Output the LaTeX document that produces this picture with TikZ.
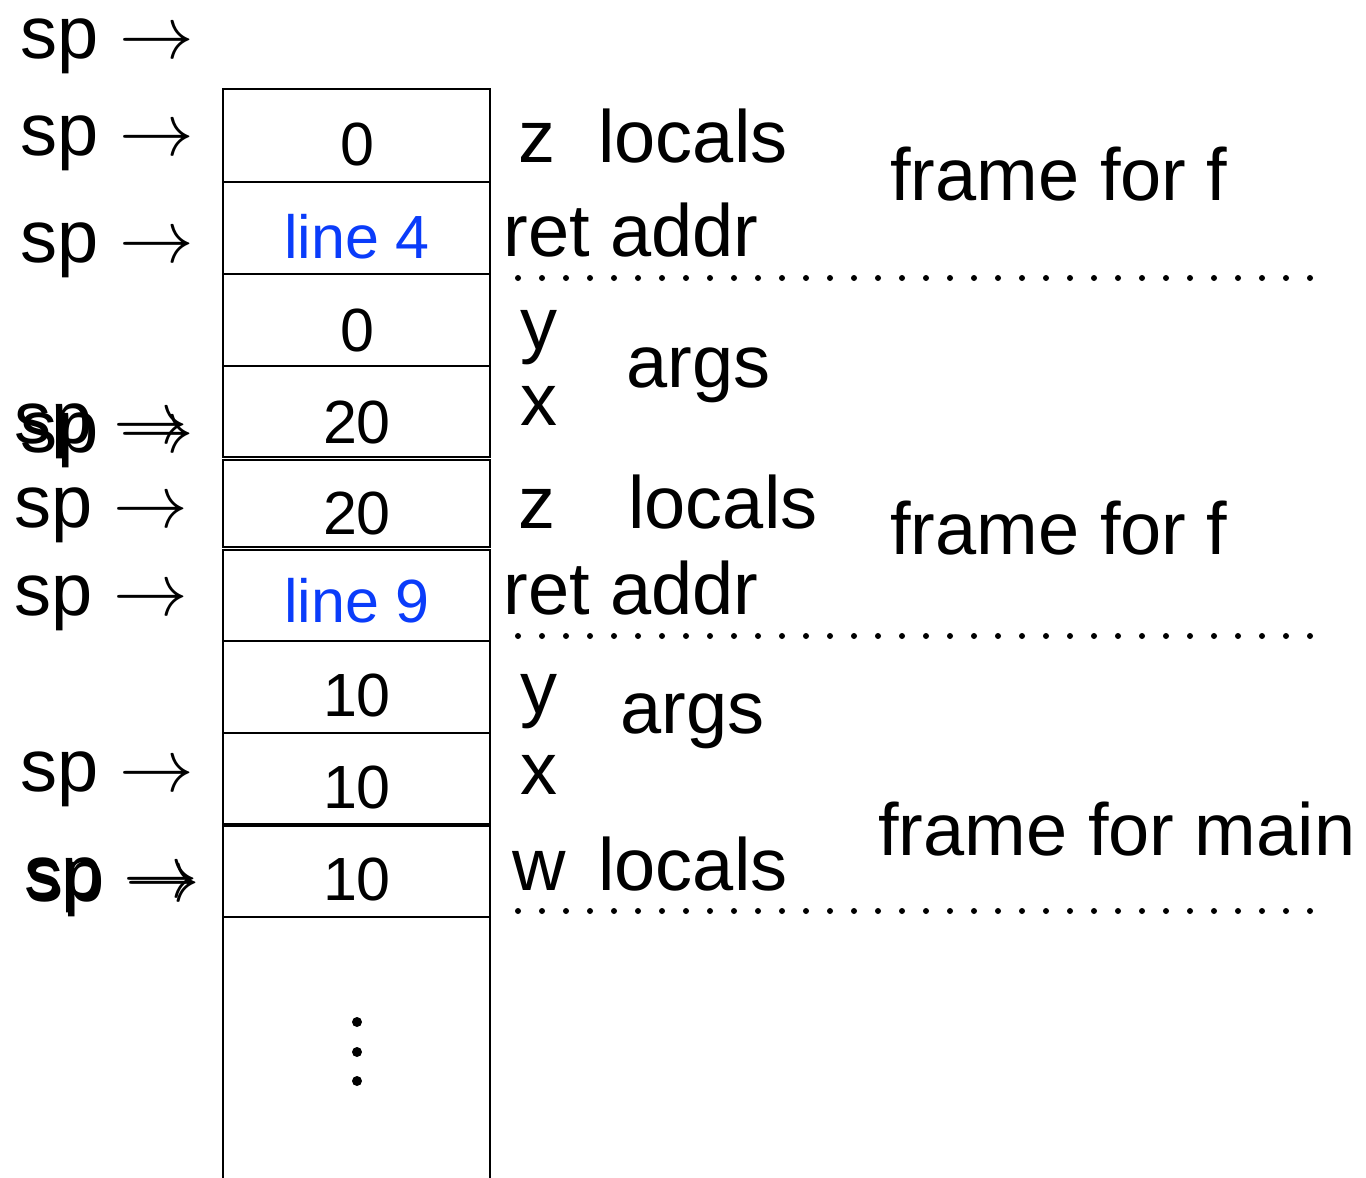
\documentclass[tikz,border=0pt]{standalone}
\usepackage{fontspec}
\usepackage{graphicx}
\setmainfont{Liberation Sans}
\definecolor{retblue}{RGB}{10,60,250}
\newcommand{\sparrow}{\scalebox{1.5}{$\rightarrow$}}
\begin{document}
\begin{tikzpicture}[x=0.5pt,y=-0.5pt,
  cellbox/.style={draw,line width=1.4pt,minimum width=133.5pt,inner sep=0pt,outer sep=0pt},
  val/.style={anchor=base,inner sep=0pt,font=\fontsize{30.5}{36}\selectfont},
  lbl/.style={anchor=base west,inner sep=0pt,font=\fontsize{37}{44}\selectfont},
  sptag/.style={anchor=base west,inner sep=0pt,font=\fontsize{37}{44}\selectfont},
  framerule/.style={line width=3pt,line cap=round,dash pattern=on 0pt off 12pt},
  stackdot/.style={circle,fill=black,inner sep=0pt,minimum size=5pt}]
\useasboundingbox (0,0) rectangle (1366,1178);

% stack cells (top = 89, bottom open)
\node[cellbox,minimum height=46.5pt] (c1) at (356.5,135.5) {};
\node[cellbox,minimum height=46pt]   (c2) at (356.5,228)   {};
\node[cellbox,minimum height=46pt]   (c3) at (356.5,320)   {};
\node[cellbox,minimum height=45.5pt] (c4) at (356.5,411.5) {};
\node[cellbox,minimum height=43.5pt] (c5) at (356.5,503.5) {};
\node[cellbox,minimum height=45.5pt] (c6) at (356.5,595.5) {};
\node[cellbox,minimum height=46pt]   (c7) at (356.5,687)   {};
\node[cellbox,minimum height=45.5pt] (c8) at (356.5,778.5) {};
\node[cellbox,minimum height=45.5pt] (c9) at (356.5,871.5) {};
\coordinate (bl) at (223,1178);
\coordinate (br) at (490,1178);
\draw[line width=1.4pt] (c9.south west) -- (bl);
\draw[line width=1.4pt] (c9.south east) -- (br);

% cell contents
\node[val] (v1) at (357,165) {0};
\node[val,text=retblue] (v2) at (357,258) {line 4};
\node[val] (v3) at (357,351) {0};
\node[val] (v4) at (357,443) {20};
\node[val] (v5) at (357,534) {20};
\node[val,text=retblue] (v6) at (357,622) {line 9};
\node[val] (v7) at (357,716) {10};
\node[val] (v8) at (357,808) {10};
\node[val] (v9) at (357,900) {10};

% ellipsis below the stack
\node[stackdot] (d1) at (357,1022) {};
\node[stackdot] (d2) at (357,1052) {};
\node[stackdot] (d3) at (357,1081) {};

% stack pointer positions
\node[sptag] (sp1) at (20,58)  {sp \sparrow};
\node[sptag] (sp2) at (20,155) {sp \sparrow};
\node[sptag] (sp3) at (20,262) {sp \sparrow};
\node[sptag] (sp4) at (14,443) {sp \sparrow};
\node[sptag] (sp5) at (20,452) {sp \sparrow};
\node[sptag] (sp6) at (14,527) {sp \sparrow};
\node[sptag] (sp7) at (14,615) {sp \sparrow};
\node[sptag] (sp8) at (20,791) {sp \sparrow};
\node[sptag] (sp9) at (24,897) {sp \sparrow};
\node[sptag] (sp10) at (26,901) {sp \sparrow};

% frame for f (top)
\node[lbl] (z1) at (518,162) {z};
\node[lbl] (loc1) at (598,162) {locals};
\node[lbl] (ret1) at (503,256) {ret addr};
\node[lbl] (ff1) at (890,200) {frame for f};
\coordinate (r1a) at (518,278);
\coordinate (r1b) at (1316,278);
\draw[framerule] (r1a) -- (r1b);
\node[lbl] (y1) at (520,349) {y};
\node[lbl] (args1) at (626,387) {args};
\node[lbl] (x1) at (520,425) {x};

% frame for f (second)
\node[lbl] (z2) at (518,528) {z};
\node[lbl] (loc2) at (628,528) {locals};
\node[lbl] (ff2) at (890,554) {frame for f};
\node[lbl] (ret2) at (503,614) {ret addr};
\coordinate (r2a) at (518,636);
\coordinate (r2b) at (1316,636);
\draw[framerule] (r2a) -- (r2b);
\node[lbl] (y2) at (520,713) {y};
\node[lbl] (args2) at (620,733) {args};
\node[lbl] (x2) at (520,794) {x};

% frame for main
\node[lbl] (w3) at (512,890) {w};
\node[lbl] (loc3) at (598,890) {locals};
\node[lbl] (fm) at (878,855) {frame for main};
\coordinate (r3a) at (518,911);
\coordinate (r3b) at (1316,911);
\draw[framerule] (r3a) -- (r3b);
\end{tikzpicture}
\end{document}
